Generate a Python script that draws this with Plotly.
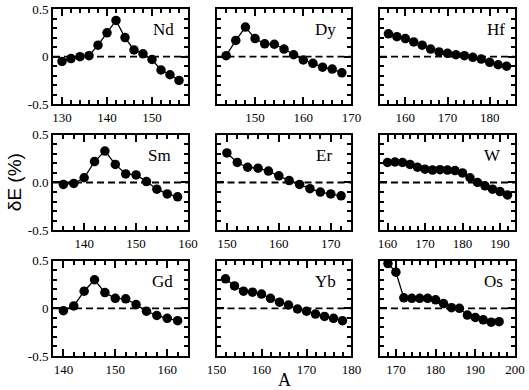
import plotly.graph_objects as go
from plotly.subplots import make_subplots

# mass number A and deviation dE (%), one panel per element
nd_a = [130, 132, 134, 136, 138, 140, 142, 144, 146, 148, 150, 152, 154, 156]
nd_de = [-0.05, -0.02, 0.0, 0.01, 0.12, 0.25, 0.38, 0.20, 0.07, 0.03, -0.03, -0.14, -0.19, -0.25]

dy_a = [144, 146, 148, 150, 152, 154, 156, 158, 160, 162, 164, 166, 168]
dy_de = [0.01, 0.17, 0.31, 0.19, 0.135, 0.13, 0.08, 0.02, -0.035, -0.07, -0.11, -0.13, -0.17]

hf_a = [156, 158, 160, 162, 164, 166, 168, 170, 172, 174, 176, 178, 180, 182, 184]
hf_de = [0.24, 0.21, 0.19, 0.155, 0.12, 0.08, 0.05, 0.035, 0.02, 0.01, -0.007, -0.025, -0.06, -0.085, -0.10]

sm_a = [136, 138, 140, 142, 144, 146, 148, 150, 152, 154, 156, 158]
sm_de = [-0.02, -0.01, 0.05, 0.22, 0.33, 0.19, 0.09, 0.08, 0.01, -0.07, -0.12, -0.15]

er_a = [150, 152, 154, 156, 158, 160, 162, 164, 166, 168, 170, 172]
er_de = [0.31, 0.21, 0.16, 0.15, 0.12, 0.07, 0.02, -0.02, -0.065, -0.10, -0.12, -0.14]

w_a = [160, 162, 164, 166, 168, 170, 172, 174, 176, 178, 180, 182, 184, 186, 188, 190, 192]
w_de = [0.21, 0.215, 0.21, 0.19, 0.16, 0.14, 0.13, 0.135, 0.13, 0.125, 0.10, 0.05, 0.0, -0.035, -0.07, -0.095, -0.13]

gd_a = [140, 142, 144, 146, 148, 150, 152, 154, 156, 158, 160, 162]
gd_de = [-0.025, 0.025, 0.18, 0.30, 0.165, 0.105, 0.10, 0.04, -0.03, -0.075, -0.105, -0.13]

yb_a = [152, 154, 156, 158, 160, 162, 164, 166, 168, 170, 172, 174, 176, 178]
yb_de = [0.31, 0.235, 0.18, 0.17, 0.15, 0.105, 0.065, 0.035, -0.007, -0.03, -0.06, -0.085, -0.105, -0.13]

os_a = [168, 170, 172, 174, 176, 178, 180, 182, 184, 186, 188, 190, 192, 194, 196]
os_de = [0.47, 0.38, 0.11, 0.105, 0.105, 0.105, 0.09, 0.05, 0.007, 0.0, -0.07, -0.095, -0.12, -0.145, -0.14]

names = ['Nd', 'Dy', 'Hf', 'Sm', 'Er', 'W', 'Gd', 'Yb', 'Os']
a_lists = [nd_a, dy_a, hf_a, sm_a, er_a, w_a, gd_a, yb_a, os_a]
de_lists = [nd_de, dy_de, hf_de, sm_de, er_de, w_de, gd_de, yb_de, os_de]
x_ranges = [[128, 158], [142, 170], [154, 186],
            [134, 160], [148, 174], [158, 194],
            [138, 164], [150, 180], [166, 200]]
label_x = [0.815, 0.81, 0.86, 0.79, 0.80, 0.83, 0.81, 0.81, 0.84]
y_ticktext = [['-0.5', '0', '0.5'], ['-0.5', '0.0', '0.5'], ['-0.5', '0', '0.5']]

serif = 'Liberation Serif'

fig = make_subplots(rows=3, cols=3, horizontal_spacing=0.0617, vertical_spacing=0.088)

for i in range(9):
    r = i // 3 + 1
    c = i % 3 + 1
    fig.add_trace(go.Scatter(x=a_lists[i], y=de_lists[i], mode='lines+markers',
                             line=dict(color='black', width=1.3),
                             marker=dict(color='black', size=9.5),
                             showlegend=False), row=r, col=c)
    fig.add_hline(y=0, line=dict(color='black', width=1.8, dash='7px,4px'), row=r, col=c)
    fig.update_xaxes(range=x_ranges[i], dtick=10, tick0=0, row=r, col=c)
    fig.update_yaxes(range=[-0.5, 0.5], tickvals=[-0.5, 0, 0.5], ticktext=y_ticktext[r - 1],
                     showticklabels=(c == 1), row=r, col=c)
    xref = 'x domain' if i == 0 else 'x%d domain' % (i + 1)
    yref = 'y domain' if i == 0 else 'y%d domain' % (i + 1)
    fig.add_annotation(x=label_x[i], y=0.78, xref=xref, yref=yref, text=names[i],
                       xanchor='center', yanchor='middle', showarrow=False,
                       font=dict(family=serif, size=17, color='black'))

axis_style = dict(showline=True, linecolor='black', linewidth=2, mirror='ticks',
                  ticks='inside', ticklen=7, tickwidth=1.5, tickcolor='black',
                  showgrid=False, zeroline=False,
                  tickfont=dict(family=serif, size=13, color='black'))
fig.update_xaxes(**axis_style, minor=dict(dtick=2, ticks='inside', ticklen=4, tickwidth=1.5,
                                          tickcolor='black', showgrid=False))
fig.update_yaxes(**axis_style, minor=dict(dtick=0.1, ticks='inside', ticklen=4, tickwidth=1.5,
                                          tickcolor='black', showgrid=False))

fig.add_annotation(x=0.5, y=-0.068, xref='paper', yref='paper', text='A', showarrow=False,
                   xanchor='center', yanchor='middle', font=dict(family=serif, size=18, color='black'))
fig.add_annotation(x=-0.083, y=0.5, xref='paper', yref='paper', text='δE (%)', showarrow=False,
                   xanchor='center', yanchor='middle', textangle=-90,
                   font=dict(family='Liberation Sans', size=19, color='black'))

fig.update_layout(width=529, height=390, margin=dict(l=53, r=14, t=2, b=34),
                  plot_bgcolor='white', paper_bgcolor='white')

# page body has a default 8px margin, drop it so the figure sits at the window corner
fig.write_html('out.html', config={'displayModeBar': False},
               post_script="document.body.style.margin='0';")
